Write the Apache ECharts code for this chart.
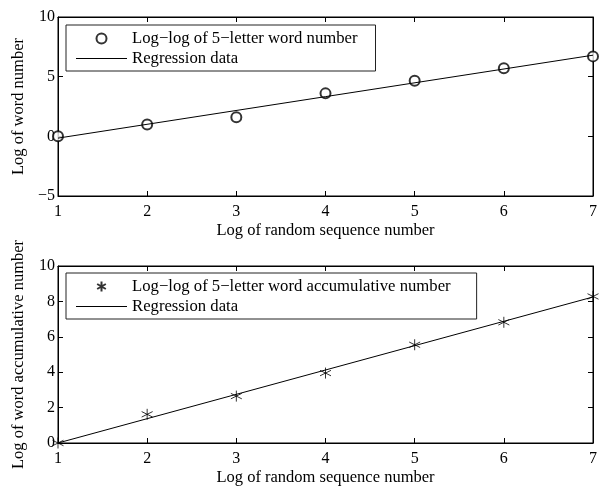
<!DOCTYPE html>
<html>
<head>
<meta charset="utf-8">
<script src="https://cdn.jsdelivr.net/npm/echarts@6/dist/echarts.min.js"></script>
<style>
  html, body { margin: 0; padding: 0; background: #fff; }
  #main { width: 600px; height: 487px; }
</style>
</head>
<body>
<div id="main"></div>
<script>
// data
var xSeq = [1, 2, 3, 4, 5, 6, 7];
var wordLog = [0, 1.0, 1.6, 3.6, 4.65, 5.7, 6.7];
var wordFitX = [1, 7];
var wordFitY = [-0.15, 6.8];
var accLog = [0, 1.62, 2.65, 3.95, 5.55, 6.82, 8.28];
var accFitX = [1, 7];
var accFitY = [0, 8.25];

var nameTop = 'Log\u2212log of 5\u2212letter word number';
var nameBottom = 'Log\u2212log of 5\u2212letter word accumulative number';
var nameFit = 'Regression data';

function pairs(xs, ys) {
    var out = [];
    for (var i = 0; i < xs.length; i++) out.push([xs[i], ys[i]]);
    return out;
}

var font = 'Liberation Serif';
var star = 'path://M0,-6L0,6M-5.2,-3L5.2,3M-5.2,3L5.2,-3';
var dash = 'path://M0,0L51,0L51,1L0,1Z';

function minus(v) { return String(v).replace('-', '\u2212'); }

function xAx(grid, pos, show) {
    return {
        type: 'value', gridIndex: grid, position: pos,
        min: 1, max: 7, interval: 1,
        name: show ? 'Log of random sequence number' : '',
        nameLocation: 'middle', nameGap: 26,
        nameTextStyle: { fontFamily: font, fontSize: 16.5, color: '#000' },
        axisLine: { show: true, onZero: false, lineStyle: { color: '#000', width: 1 } },
        axisTick: { show: true, inside: true, length: 5, lineStyle: { color: '#000' } },
        axisLabel: { show: show, fontFamily: font, fontSize: 16, color: '#000', margin: 8 },
        splitLine: { show: false }
    };
}
function yAx(grid, pos, show, min, max, step, title) {
    return {
        type: 'value', gridIndex: grid, position: pos,
        min: min, max: max, interval: step,
        name: show ? title : '',
        nameLocation: 'middle', nameGap: 31,
        nameTextStyle: { fontFamily: font, fontSize: 16.5, color: '#000' },
        axisLine: { show: true, onZero: false, lineStyle: { color: '#000', width: 1 } },
        axisTick: { show: true, inside: true, length: 5, lineStyle: { color: '#000' } },
        axisLabel: { show: show, fontFamily: font, fontSize: 16, color: '#000', margin: 3, formatter: minus },
        splitLine: { show: false }
    };
}

function legendBox(top, names, icon, padRight) {
    return {
        orient: 'vertical', left: 66, top: top,
        data: [{ name: names[0], icon: icon }, { name: names[1], icon: dash }],
        itemWidth: 51, itemHeight: 10, itemGap: 3,
        padding: [5, padRight, 4, 10],
        borderColor: '#222', borderWidth: 1,
        textStyle: { fontFamily: font, fontSize: 16.7, color: '#000' },
        selectedMode: false
    };
}

var chart = echarts.init(document.getElementById('main'));
chart.setOption({
    backgroundColor: '#fff',
    animation: false,
    grid: [
        { left: 58, right: 1, top: 17, bottom: 291, show: true, borderColor: '#000', borderWidth: 1 },
        { left: 58, right: 1, top: 266, bottom: 42, show: true, borderColor: '#000', borderWidth: 1 }
    ],
    xAxis: [xAx(0, 'bottom', true), xAx(0, 'top', false), xAx(1, 'bottom', true), xAx(1, 'top', false)],
    yAxis: [
        yAx(0, 'left', true, -5, 10, 5, 'Log of word number'),
        yAx(0, 'right', false, -5, 10, 5, ''),
        yAx(1, 'left', true, 0, 10, 2, 'Log of word accumulative number'),
        yAx(1, 'right', false, 0, 10, 2, '')
    ],
    legend: [
        legendBox(25, [nameTop, nameFit], 'emptyCircle', 18),
        legendBox(273, [nameBottom, nameFit], star, 26)
    ],
    series: [
        {
            name: nameTop, type: 'scatter', xAxisIndex: 0, yAxisIndex: 0,
            data: pairs(xSeq, wordLog),
            symbol: 'emptyCircle', symbolSize: 10,
            itemStyle: { color: '#000', borderColor: '#000', borderWidth: 1 }
        },
        {
            name: nameFit, type: 'line', xAxisIndex: 0, yAxisIndex: 0,
            data: pairs(wordFitX, wordFitY),
            symbol: 'none',
            lineStyle: { color: '#000', width: 1 },
            itemStyle: { color: '#000' }
        },
        {
            name: nameBottom, type: 'scatter', xAxisIndex: 2, yAxisIndex: 2,
            data: pairs(xSeq, accLog),
            symbol: star, symbolSize: 11,
            itemStyle: { color: '#000', borderColor: '#000', borderWidth: 1 }
        },
        {
            name: nameFit, type: 'line', xAxisIndex: 2, yAxisIndex: 2,
            data: pairs(accFitX, accFitY),
            symbol: 'none',
            lineStyle: { color: '#000', width: 1 },
            itemStyle: { color: '#000' }
        }
    ]
});
</script>
</body>
</html>
